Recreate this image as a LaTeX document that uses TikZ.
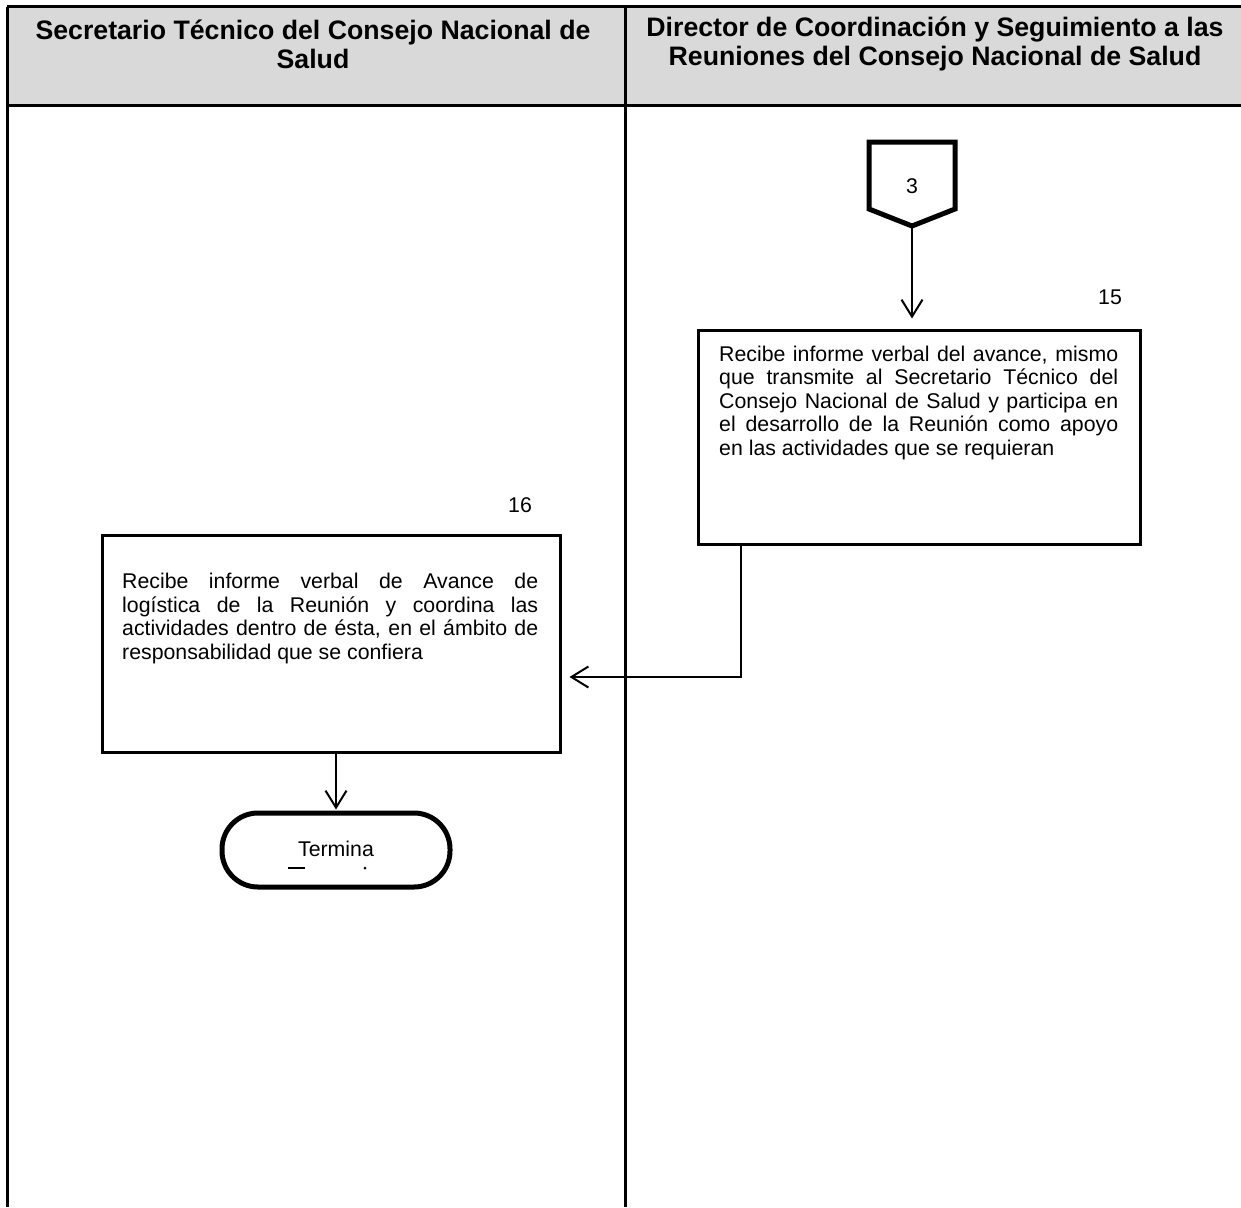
\documentclass[tikz,border=0pt]{standalone}
\usepackage{fontspec}
\setmainfont{Liberation Sans}
\usetikzlibrary{arrows.meta,calc}
\definecolor{hdr}{HTML}{D9D9D9}
\begin{document}
\begin{tikzpicture}[x=1pt,y=-1pt,
  gridline/.style={line width=3pt},
  hdrtext/.style={inner sep=0pt, align=center, font=\bfseries\fontsize{26.7}{29}\selectfont},
  procbox/.style={draw, line width=3pt, inner sep=0pt},
  bodytext/.style={anchor=north west, inner sep=0pt, align=justify, font=\fontsize{21.3}{23.5}\selectfont},
  numlabel/.style={inner sep=0pt, font=\fontsize{21.3}{23.5}\selectfont},
  arr/.style={line width=2pt, -{Straight Barb[length=17pt,width=21pt]}},
  termbox/.style={draw, line width=5pt, rounded corners=36pt, minimum width=228pt, minimum height=74pt, inner sep=0pt, font=\fontsize{21.3}{23.5}\selectfont}
]
\useasboundingbox (0,0) rectangle (1241,1207);
% header band
\fill[hdr] (7,7) rectangle (1241,105);
\draw[gridline] (7,7) -- (1241,7);
\draw[gridline] (7,105) -- (1241,105);
\draw[gridline] (7,7) -- (7,1207);
\draw[gridline] (625,7) -- (625,1207);
\node[hdrtext] (h1) at (313,44) {Secretario Técnico del Consejo Nacional de\\Salud};
\node[hdrtext] (h2) at (935,44) {Director de Coordinación y Seguimiento a las\\Reuniones del Consejo Nacional de Salud};

% off-page connector 3
\draw[line width=5pt, line join=miter] (869,142) -- (955,142) -- (955,209) -- (912,226) -- (869,209) -- cycle;
\node[numlabel] (n3) at (912,186) {3};
\coordinate (p3tip) at (912,228);

% box 15
\node[procbox, minimum width=442pt, minimum height=214pt] (b15) at (919,437) {};
\node[numlabel] (l15) at (1110,297) {15};
\node[bodytext, text width=399pt] (t15) at (719,345.5) {Recibe informe verbal del avance, mismo\linebreak que transmite al Secretario Técnico del\linebreak Consejo Nacional de Salud y participa en\linebreak el desarrollo de la Reunión como apoyo\linebreak en las actividades que se requieran};

% box 16
\node[procbox, minimum width=458pt, minimum height=217pt] (b16) at (331,643.5) {};
\node[numlabel] (l16) at (520,505) {16};
\node[bodytext, text width=416pt] (t16) at (122,573) {Recibe informe verbal de Avance de\linebreak logística de la Reunión y coordina las\linebreak actividades dentro de ésta, en el ámbito de\linebreak responsabilidad que se confiera};

% terminator
\node[termbox] (term) at (336,850) {\raisebox{3pt}{Termina}};
\draw[line width=2pt] (288,868) -- (305,868);
\fill (365,868) circle (1.5pt);

% connectors
\draw[arr, shorten >=10pt] (p3tip) -- (p3tip |- b15.north);
\coordinate (j1) at (741,677);
\draw[arr, shorten >=8pt] (b15.south -| j1) -- (j1) -- (b16.east |- j1);
\draw[arr, shorten >=1pt] (b16.south -| term.north) -- (term.north);
\end{tikzpicture}
\end{document}
